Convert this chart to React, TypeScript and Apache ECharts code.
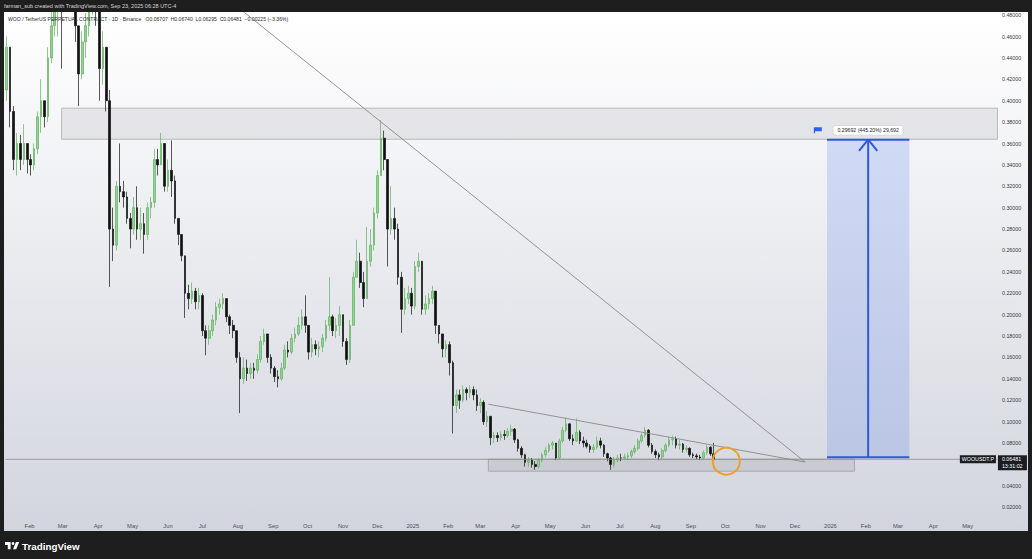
import React, { useEffect, useRef } from 'react';
import * as echarts from 'echarts';

// ---- axis / time frame ----
const START_UTC = Date.UTC(2024, 0, 11);
const AXIS_DAYS = 868;
const CANDLE_SPAN_DAYS = 3;
const MONTH_NAMES = ['Jan', 'Feb', 'Mar', 'Apr', 'May', 'Jun', 'Jul', 'Aug', 'Sep', 'Oct', 'Nov', 'Dec'];
const PRICE_MIN = 0;
const PRICE_MAX = 0.482;
const PRICE_TICK = 0.02;

// ---- price data (3-day candles) ----
const FIRST_OPEN = 0.41;
const closes = [
  0.45, 0.39, 0.345, 0.36, 0.345, 0.36, 0.345, 0.34, 0.355, 0.385,
  0.40, 0.385, 0.44, 0.47, 0.50, 0.51, 0.49, 0.52, 0.53, 0.51,
  0.47, 0.425, 0.455, 0.47, 0.50, 0.51, 0.50, 0.43, 0.45, 0.40,
  0.28, 0.265, 0.32, 0.315, 0.31, 0.29, 0.28, 0.30, 0.28, 0.285,
  0.275, 0.30, 0.305, 0.345, 0.34, 0.36, 0.32, 0.335, 0.325, 0.29,
  0.275, 0.255, 0.22, 0.215, 0.222, 0.212, 0.218, 0.185, 0.178, 0.185,
  0.195, 0.207, 0.21, 0.215, 0.198, 0.19, 0.185, 0.16, 0.14, 0.15,
  0.145, 0.15, 0.148, 0.158, 0.175, 0.182, 0.16, 0.15, 0.142, 0.14,
  0.15, 0.167, 0.165, 0.178, 0.182, 0.19, 0.198, 0.19, 0.165, 0.172,
  0.168, 0.17, 0.178, 0.19, 0.198, 0.185, 0.19, 0.2, 0.175, 0.158,
  0.19, 0.235, 0.25, 0.23, 0.215, 0.25, 0.265, 0.295, 0.33, 0.365,
  0.345, 0.28, 0.29, 0.28, 0.235, 0.205, 0.215, 0.22, 0.208, 0.245,
  0.25, 0.205, 0.21, 0.215, 0.222, 0.19, 0.182, 0.168, 0.172, 0.155,
  0.115, 0.125, 0.12, 0.13, 0.127, 0.13, 0.125, 0.115, 0.118, 0.1,
  0.105, 0.085, 0.087, 0.085, 0.088, 0.087, 0.091, 0.093, 0.083, 0.075,
  0.069, 0.062, 0.064, 0.06, 0.058, 0.064, 0.069, 0.073, 0.078, 0.08,
  0.066, 0.082, 0.092, 0.098, 0.084, 0.082, 0.09, 0.082, 0.08, 0.077,
  0.074, 0.076, 0.082, 0.078, 0.07, 0.066, 0.06, 0.064, 0.066, 0.066,
  0.067, 0.068, 0.072, 0.075, 0.082, 0.087, 0.092, 0.078, 0.072, 0.069,
  0.067, 0.073, 0.078, 0.083, 0.084, 0.078, 0.079, 0.074, 0.075, 0.069,
  0.068, 0.067, 0.066, 0.071, 0.076, 0.07, 0.06481,
];
const highs = [
  0.46, 0.44, 0.395, 0.37, 0.368, 0.378, 0.36, 0.35, 0.36, 0.39,
  0.42, 0.40, 0.45, 0.49, 0.52, 0.54, 0.53, 0.55, 0.56, 0.55,
  0.52, 0.47, 0.465, 0.482, 0.53, 0.55, 0.54, 0.48, 0.465, 0.45,
  0.41, 0.30, 0.325, 0.36, 0.325, 0.315, 0.295, 0.31, 0.32, 0.30,
  0.295, 0.305, 0.31, 0.355, 0.355, 0.37, 0.36, 0.345, 0.363, 0.33,
  0.29, 0.275, 0.255, 0.228, 0.23, 0.225, 0.225, 0.22, 0.19, 0.19,
  0.2, 0.212, 0.215, 0.22, 0.215, 0.2, 0.195, 0.185, 0.165, 0.16,
  0.158, 0.155, 0.155, 0.163, 0.18, 0.187, 0.18, 0.163, 0.152, 0.148,
  0.155, 0.172, 0.175, 0.182, 0.188, 0.198, 0.205, 0.218, 0.19, 0.178,
  0.176, 0.175, 0.182, 0.195, 0.235, 0.2, 0.197, 0.208, 0.2, 0.178,
  0.195, 0.24, 0.27, 0.258, 0.24, 0.282, 0.28, 0.3, 0.335, 0.382,
  0.372, 0.345, 0.32, 0.30, 0.285, 0.24, 0.225, 0.227, 0.225, 0.25,
  0.258, 0.25, 0.218, 0.22, 0.227, 0.22, 0.19, 0.18, 0.176, 0.175,
  0.157, 0.13, 0.13, 0.134, 0.132, 0.134, 0.133, 0.13, 0.122, 0.12,
  0.11, 0.102, 0.09, 0.09, 0.091, 0.092, 0.094, 0.097, 0.094, 0.084,
  0.077, 0.07, 0.067, 0.066, 0.063, 0.066, 0.071, 0.076, 0.08, 0.082,
  0.08, 0.084, 0.095, 0.104, 0.098, 0.088, 0.103, 0.092, 0.086, 0.083,
  0.079, 0.079, 0.086, 0.085, 0.079, 0.071, 0.067, 0.067, 0.069, 0.07,
  0.07, 0.071, 0.074, 0.078, 0.084, 0.089, 0.095, 0.093, 0.08, 0.074,
  0.071, 0.075, 0.08, 0.086, 0.087, 0.086, 0.083, 0.08, 0.078, 0.076,
  0.071, 0.07, 0.069, 0.073, 0.078, 0.077, 0.0802,
];
const lows = [
  0.40, 0.375, 0.335, 0.33, 0.335, 0.34, 0.332, 0.33, 0.335, 0.35,
  0.37, 0.375, 0.38, 0.435, 0.46, 0.46, 0.43, 0.49, 0.50, 0.49,
  0.455, 0.395, 0.42, 0.44, 0.46, 0.48, 0.47, 0.40, 0.415, 0.39,
  0.226, 0.25, 0.26, 0.305, 0.30, 0.285, 0.262, 0.275, 0.27, 0.27,
  0.257, 0.27, 0.29, 0.30, 0.33, 0.34, 0.315, 0.315, 0.31, 0.285,
  0.265, 0.25, 0.197, 0.205, 0.21, 0.205, 0.205, 0.18, 0.162, 0.172,
  0.18, 0.19, 0.20, 0.205, 0.193, 0.182, 0.178, 0.155, 0.108, 0.135,
  0.138, 0.14, 0.14, 0.145, 0.155, 0.172, 0.155, 0.145, 0.137, 0.132,
  0.138, 0.148, 0.16, 0.163, 0.174, 0.18, 0.186, 0.183, 0.158, 0.16,
  0.162, 0.16, 0.165, 0.175, 0.185, 0.18, 0.178, 0.18, 0.17, 0.153,
  0.155, 0.19, 0.235, 0.225, 0.207, 0.215, 0.245, 0.26, 0.29, 0.33,
  0.335, 0.245, 0.275, 0.27, 0.228, 0.183, 0.2, 0.21, 0.2, 0.205,
  0.24, 0.2, 0.2, 0.205, 0.21, 0.182, 0.173, 0.16, 0.16, 0.143,
  0.089, 0.108, 0.112, 0.118, 0.12, 0.122, 0.12, 0.11, 0.108, 0.097,
  0.095, 0.078, 0.08, 0.081, 0.082, 0.083, 0.085, 0.087, 0.08, 0.072,
  0.066, 0.058, 0.058, 0.057, 0.055, 0.056, 0.062, 0.067, 0.071, 0.074,
  0.064, 0.065, 0.08, 0.09, 0.082, 0.078, 0.081, 0.079, 0.076, 0.075,
  0.071, 0.071, 0.074, 0.075, 0.067, 0.063, 0.055, 0.057, 0.062, 0.063,
  0.064, 0.064, 0.066, 0.07, 0.073, 0.08, 0.085, 0.076, 0.07, 0.066,
  0.064, 0.065, 0.071, 0.076, 0.078, 0.075, 0.074, 0.071, 0.071, 0.067,
  0.066, 0.065, 0.064, 0.065, 0.069, 0.068, 0.06295,
];

// ---- last price ----
const LAST_PRICE = 0.06481;
const COUNTDOWN = '13:31:02';
const SYMBOL_TAG = 'WOOUSDT.P';

// ---- drawings (dates / prices) ----
const resistanceZone = { from: '2024-02-29', to: '2026-05-27', top: 0.393, bottom: 0.364 };
const supportZone = { from: '2025-03-08', to: '2026-01-22', top: 0.0649, bottom: 0.0537 };
const targetBox = { from: '2025-12-29', to: '2026-03-11', bottom: 0.0667, top: 0.3636 };
const targetMid = '2026-02-03';
const arrowArms = { left: '2026-01-26', right: '2026-02-11', price: 0.353 };
const mainTrend = [['2024-07-19', 0.4986], ['2025-12-10', 0.0622]];
const lowerTrend = [['2025-03-08', 0.1163], ['2025-12-10', 0.0622]];
const circleMark = ['2025-10-02', 0.063];
const flagMark = ['2025-12-21', 0.3725];
const labelMark = [targetMid, 0.3725];
const MEASURE_TEXT = '0.29692 (445.20%) 29,692';

const HEADER_TEXT =
  'WOO / TetherUS PERPETUAL CONTRACT · 1D · Binance   O0.06707  H0.06740  L0.06295  C0.06481  −0.00225 (−3.36%)';
const CREDIT_TEXT = 'farman_sub created with TradingView.com, Sep 23, 2025 06:28 UTC-4';

const FONT = '"Liberation Sans", Arial, sans-serif';

function buildDays(): string[] {
  const out: string[] = [];
  for (let i = 0; i < AXIS_DAYS; i++) {
    out.push(new Date(START_UTC + i * 86400000).toISOString().slice(0, 10));
  }
  return out;
}

let logoRegistered = false;
function registerLogo() {
  if (logoRegistered) return;
  echarts.graphic.registerShape(
    'tvlogo',
    echarts.graphic.extendPath('M14 22H7V11H0V4h14v18zM28 22h-8l7.5-18h8L28 22z', {})
  );
  logoRegistered = true;
}

export default function App() {
  const ref = useRef<HTMLDivElement>(null);

  useEffect(() => {
    if (!ref.current) return;
    registerLogo();
    const chart = echarts.init(ref.current, undefined, { renderer: 'svg' });
    const days = buildDays();
    const firstDay = days[0];
    const lastDay = days[days.length - 1];
    const empty = ['-', '-', '-', '-'];
    const candleData = days.map((_, i) => {
      if ((i - 1) % CANDLE_SPAN_DAYS !== 0) return empty;
      const k = (i - 1) / CANDLE_SPAN_DAYS;
      if (k >= closes.length) return empty;
      const o = k === 0 ? FIRST_OPEN : closes[k - 1];
      const c = closes[k];
      return [o, c, Math.min(lows[k], o, c), Math.max(highs[k], o, c)];
    });

    const blue = '#2f5ad6';
    const grey = '#8a8a8a';
    const hidden = { color: 'rgba(0,0,0,0)', opacity: 1 };
    const tagLabel = {
      show: true,
      backgroundColor: '#1b1d22',
      color: '#ffffff',
      fontSize: 5.3,
      fontFamily: FONT,
    };

    const option: any = {
      animation: false,
      textStyle: { fontFamily: FONT },
      grid: { left: 5, right: 34, top: 13, bottom: 30.4, containLabel: false },
      xAxis: {
        type: 'category',
        data: days,
        boundaryGap: true,
        offset: -6,
        axisLine: { show: false },
        axisTick: { show: false },
        splitLine: { show: false },
        axisLabel: {
          interval: (_idx: number, v: string) => v.endsWith('-01'),
          formatter: (v: string) => {
            const m = parseInt(v.slice(5, 7), 10);
            return m === 1 ? v.slice(0, 4) : MONTH_NAMES[m - 1];
          },
          margin: 0,
          verticalAlign: 'top',
          fontSize: 5.8,
          color: '#505050',
          fontFamily: FONT,
        },
      },
      yAxis: {
        type: 'value',
        position: 'right',
        min: PRICE_MIN,
        max: PRICE_MAX,
        interval: PRICE_TICK,
        axisLine: { show: false },
        axisTick: { show: false },
        splitLine: { show: false },
        axisLabel: {
          showMinLabel: false,
          showMaxLabel: false,
          margin: 4,
          fontSize: 5.3,
          color: '#3a3a3a',
          fontFamily: FONT,
          formatter: (v: number) => v.toFixed(5),
        },
      },
      series: [
        {
          type: 'candlestick',
          data: candleData,
          large: false,
          barWidth: 2.1,
          z: 3,
          itemStyle: {
            color: '#92d392',
            color0: '#121212',
            borderColor: '#62b062',
            borderColor0: '#121212',
            borderWidth: 0.7,
          },
          markArea: {
            silent: true,
            data: [
              [
                {
                  xAxis: resistanceZone.from,
                  yAxis: resistanceZone.top,
                  itemStyle: { color: 'rgba(195,195,200,0.33)', borderColor: '#b8b8b8', borderWidth: 1 },
                },
                { xAxis: resistanceZone.to, yAxis: resistanceZone.bottom },
              ],
              [
                {
                  xAxis: supportZone.from,
                  yAxis: supportZone.top,
                  itemStyle: { color: 'rgba(175,175,180,0.35)', borderColor: '#a8a8a8', borderWidth: 1 },
                },
                { xAxis: supportZone.to, yAxis: supportZone.bottom },
              ],
              [
                {
                  xAxis: targetBox.from,
                  yAxis: targetBox.top,
                  itemStyle: { color: 'rgba(70,115,240,0.2)' },
                },
                { xAxis: targetBox.to, yAxis: targetBox.bottom },
              ],
            ],
          },
        },
        {
          type: 'line',
          data: [[firstDay, LAST_PRICE], [lastDay, LAST_PRICE]],
          symbol: 'none',
          z: 4,
          lineStyle: { color: '#8c8c8c', width: 0.8 },
        },
        {
          type: 'line',
          data: mainTrend,
          symbol: 'none',
          z: 4,
          lineStyle: { color: grey, width: 0.9 },
        },
        {
          type: 'line',
          data: lowerTrend,
          symbol: 'none',
          z: 4,
          lineStyle: { color: grey, width: 0.9 },
        },
        {
          type: 'line',
          data: [[targetBox.from, targetBox.top], [targetBox.to, targetBox.top]],
          symbol: 'none',
          z: 4,
          lineStyle: { color: blue, width: 2 },
        },
        {
          type: 'line',
          data: [[targetBox.from, targetBox.bottom], [targetBox.to, targetBox.bottom]],
          symbol: 'none',
          z: 4,
          lineStyle: { color: blue, width: 2 },
        },
        {
          type: 'line',
          data: [[targetMid, targetBox.bottom], [targetMid, targetBox.top]],
          symbol: 'none',
          z: 4,
          lineStyle: { color: blue, width: 2 },
        },
        {
          type: 'line',
          data: [[arrowArms.left, arrowArms.price], [targetMid, targetBox.top], [arrowArms.right, arrowArms.price]],
          symbol: 'none',
          z: 4,
          lineStyle: { color: blue, width: 2 },
        },
        {
          type: 'scatter',
          data: [circleMark],
          symbol: 'circle',
          symbolSize: 27,
          z: 5,
          itemStyle: { color: 'rgba(0,0,0,0)', borderColor: '#f0a02a', borderWidth: 2, opacity: 1 },
        },
        {
          type: 'scatter',
          data: [flagMark],
          symbol: 'path://M0,0 L10,0 L10,7 L0,7 Z M0,0 L1.5,0 L1.5,10 L0,10 Z',
          symbolSize: [8, 6],
          z: 5,
          itemStyle: { color: '#2962ff', opacity: 1 },
        },
        {
          type: 'scatter',
          data: [labelMark],
          symbolSize: 1,
          z: 6,
          itemStyle: hidden,
          label: {
            show: true,
            position: 'inside',
            formatter: MEASURE_TEXT,
            fontSize: 5.2,
            color: '#222',
            backgroundColor: '#ffffff',
            borderColor: '#cfcfcf',
            borderWidth: 0.6,
            borderRadius: 2,
            padding: [2, 4, 2, 4],
            fontFamily: FONT,
          },
        },
        // last-price tags (price, countdown, symbol)
        {
          type: 'scatter',
          data: [[lastDay, LAST_PRICE]],
          symbolSize: 1,
          z: 7,
          clip: false,
          itemStyle: hidden,
          label: {
            ...tagLabel,
            position: 'right',
            distance: 0,
            formatter: LAST_PRICE.toFixed(5),
            padding: [2, 4, 1, 4],
            width: 21,
          },
        },
        {
          type: 'scatter',
          data: [[lastDay, LAST_PRICE]],
          symbolSize: 1,
          z: 7,
          clip: false,
          itemStyle: hidden,
          label: {
            ...tagLabel,
            position: 'right',
            distance: 0,
            offset: [0, 7],
            formatter: COUNTDOWN,
            padding: [1, 4, 2, 4],
            width: 21,
          },
        },
        {
          type: 'scatter',
          data: [[lastDay, LAST_PRICE]],
          symbolSize: 1,
          z: 7,
          clip: false,
          itemStyle: hidden,
          label: {
            ...tagLabel,
            position: 'left',
            distance: 1,
            formatter: SYMBOL_TAG,
            padding: [2, 2, 1, 2],
          },
        },
      ],
      graphic: [
        {
          type: 'rect',
          z: -100,
          silent: true,
          shape: { x: 0, y: 12, width: 1032, height: 519 },
          style: {
            fill: new echarts.graphic.LinearGradient(0, 0, 0, 1, [
              { offset: 0, color: '#ffffff' },
              { offset: 1, color: '#d2d5de' },
            ]),
          },
        },
        { type: 'rect', z: 100, silent: true, shape: { x: 0, y: 0, width: 1032, height: 12 }, style: { fill: '#1e1e1e' } },
        { type: 'rect', z: 100, silent: true, shape: { x: 0, y: 531, width: 1032, height: 28 }, style: { fill: '#1e1e1e' } },
        { type: 'rect', z: 100, silent: true, shape: { x: 0, y: 12, width: 4, height: 519 }, style: { fill: '#1e1e1e' } },
        { type: 'rect', z: 100, silent: true, shape: { x: 1028, y: 12, width: 4, height: 519 }, style: { fill: '#1e1e1e' } },
        {
          type: 'text',
          z: 101,
          silent: true,
          x: 4,
          y: 6,
          style: { text: CREDIT_TEXT, fill: '#d6d6d6', fontSize: 5.5, fontFamily: FONT, verticalAlign: 'middle' },
        },
        {
          type: 'text',
          z: 101,
          silent: true,
          x: 8,
          y: 18.5,
          style: { text: HEADER_TEXT, fill: '#2b2b2b', fontSize: 5.1, fontFamily: FONT, verticalAlign: 'middle' },
        },
        {
          type: 'tvlogo',
          z: 101,
          silent: true,
          x: 5,
          y: 540.5,
          scaleX: 0.4,
          scaleY: 0.4,
          style: { fill: '#ffffff' },
        },
        {
          type: 'circle',
          z: 101,
          silent: true,
          shape: { cx: 5 + 20 * 0.4, cy: 540.5 + 7.5 * 0.4, r: 3.6 * 0.4 },
          style: { fill: '#ffffff' },
        },
        {
          type: 'text',
          z: 101,
          silent: true,
          x: 22,
          y: 546,
          style: {
            text: 'TradingView',
            fill: '#ffffff',
            fontSize: 9.8,
            fontWeight: 'bold',
            fontFamily: FONT,
            verticalAlign: 'middle',
          },
        },
      ],
    };

    chart.setOption(option);
    return () => chart.dispose();
  }, []);

  return (
    <div
      ref={ref}
      style={{ position: 'fixed', left: 0, top: 0, width: 1032, height: 559, background: '#1e1e1e' }}
    />
  );
}
